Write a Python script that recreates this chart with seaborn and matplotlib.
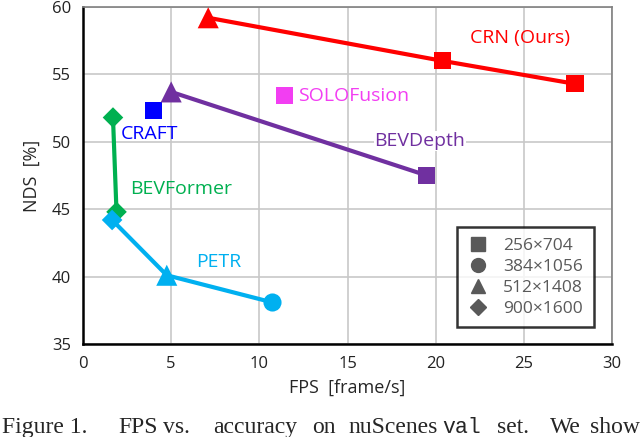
import pandas as pd
import seaborn as sns
import matplotlib.pyplot as plt

models = ["CRN (Ours)", "CRN (Ours)", "CRN (Ours)",
          "SOLOFusion", "CRAFT",
          "BEVDepth", "BEVDepth",
          "BEVFormer", "BEVFormer",
          "PETR", "PETR", "PETR"]
fps = [7.1, 20.4, 27.9,
       11.4, 4.0,
       5.0, 19.5,
       1.7, 1.9,
       1.65, 4.75, 10.7]
nds = [59.2, 56.0, 54.3,
       53.4, 52.3,
       53.7, 47.5,
       51.8, 44.8,
       44.2, 40.1, 38.1]
res = ["512×1408", "256×704", "256×704",
       "256×704", "256×704",
       "512×1408", "256×704",
       "900×1600", "900×1600",
       "900×1600", "512×1408", "384×1056"]

colors = {"CRN (Ours)": "#FF0000", "SOLOFusion": "#F23EF2", "CRAFT": "#0000FF",
          "BEVDepth": "#7030A0", "BEVFormer": "#00B050", "PETR": "#00B0F0"}
res_order = ["256×704", "384×1056", "512×1408", "900×1600"]
marks = {"256×704": "s", "384×1056": "o", "512×1408": "^", "900×1600": "D"}
msize = {"s": 150, "o": 170, "^": 230, "D": 110}

df = pd.DataFrame({"model": models, "FPS": fps, "NDS": nds, "res": res})

sns.set_style("whitegrid")
plt.rcParams['font.family'] = ['Open Sans', 'DejaVu Sans']

fig = plt.figure(figsize=(6.4, 4.37), dpi=100)
ax = fig.add_axes([0.1297, 0.2128, 0.8266, 0.7712])

sns.lineplot(data=df, x="FPS", y="NDS", hue="model", palette=colors,
             lw=3, sort=False, legend=False, ax=ax, estimator=None, units="model")
for r in res_order:
    sub = df[df.res == r]
    m = marks[r]
    sns.scatterplot(data=sub, x="FPS", y="NDS", hue="model", palette=colors,
                    marker=m, s=msize[m], linewidth=0, legend=False, ax=ax, zorder=5)

# model names, placed in pixels of the reference
labels = {"CRN (Ours)": (520, 38, "center"), "SOLOFusion": (298, 96, "left"),
          "CRAFT": (121, 134, "left"), "BEVDepth": (420, 141, "center"),
          "BEVFormer": (130, 189, "left"), "PETR": (196, 262, "left")}
for k, (px, py, ha) in labels.items():
    fig.text(px / 640, 1 - py / 437, k, color=colors[k], fontsize=14, ha=ha, va="center",
             bbox=dict(fc="white", ec="none", pad=0.5) if k == "BEVDepth" else None)

ax.set_xlim(0, 30)
ax.set_ylim(35, 60)
ax.set_xticks(range(0, 31, 5))
ax.set_yticks(range(35, 61, 5))
ax.tick_params(labelsize=12, labelcolor="#222222", length=5, width=1.2,
               direction="out", color="black")
ax.grid(color="#C8C8C8", lw=1.2)
for s in ["left", "bottom"]:
    ax.spines[s].set_color("black")
    ax.spines[s].set_linewidth(1.8)
for s in ["top", "right"]:
    ax.spines[s].set_color("#808080")
    ax.spines[s].set_linewidth(1.2)
ax.set_xlabel("FPS  [frame/s]", fontsize=13, labelpad=5)
ax.set_ylabel("NDS  [%]", fontsize=13, labelpad=8)

handles = [plt.Line2D([], [], ls="none", marker=marks[r], color="#595959",
                      markersize=10 if marks[r] != "D" else 8.5) for r in res_order]
leg = ax.legend(handles, res_order, loc="lower right", bbox_to_anchor=(0.965, 0.05),
                frameon=True, fancybox=False, fontsize=12.5, labelcolor="#595959",
                handletextpad=0.85, labelspacing=0.28, borderpad=0.6, handlelength=1.2,
                borderaxespad=0)
leg.get_frame().set_edgecolor("black")
leg.get_frame().set_linewidth(1.8)

# caption, as at the bottom of the reference page
cap = [("Figure 1.", 2, "Liberation Serif"), ("FPS", 118, "Liberation Serif"),
       ("vs.", 163, "Liberation Serif"), ("accuracy", 213, "Liberation Serif"),
       ("on", 312, "Liberation Serif"), ("nuScenes", 348, "Liberation Serif"),
       ("val", 442, "Liberation Mono"), ("set.", 497, "Liberation Serif"),
       ("We", 550, "Liberation Serif"), ("show", 590, "Liberation Serif")]
for t, px, fam in cap:
    fig.text(px / 640, 1 - 433 / 437, t, family=fam,
             fontsize=15.5 if fam == "Liberation Mono" else 17,
             va="baseline", ha="left")

fig.savefig("out.png", dpi=100)
